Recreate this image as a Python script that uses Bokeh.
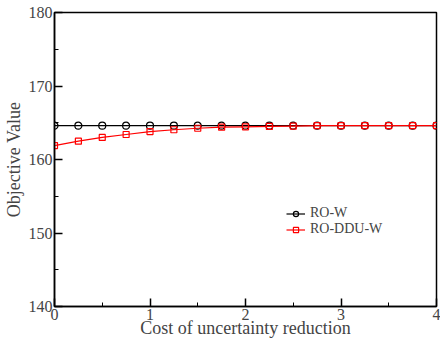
from bokeh.plotting import figure
from bokeh.models import Range1d, FixedTicker, Legend, LegendItem
from bokeh.embed import file_html
from bokeh.resources import INLINE

cost = [0, 0.25, 0.5, 0.75, 1, 1.25, 1.5, 1.75, 2, 2.25, 2.5, 2.75, 3, 3.25, 3.5, 3.75, 4]
ro_w = [164.6] * 17
ro_ddu_w = [161.9, 162.5, 163.0, 163.4, 163.8, 164.05, 164.25, 164.4, 164.45, 164.5,
            164.55, 164.6, 164.6, 164.6, 164.6, 164.6, 164.6]
x_ticks = [0, 1, 2, 3, 4]
y_ticks = [140, 150, 160, 170, 180]

FONT = "Liberation Serif"

p = figure(width=440, height=340, output_backend="svg", toolbar_location=None,
           x_range=Range1d(0, 4), y_range=Range1d(140, 180),
           min_border_left=53, min_border_right=4, min_border_top=12, min_border_bottom=32)
p.grid.visible = False
p.outline_line_color = "black"
p.outline_line_width = 1.5
p.background_fill_color = "white"
p.border_fill_color = "white"

for ax, ticks in ((p.xaxis[0], x_ticks), (p.yaxis[0], y_ticks)):
    ax.ticker = FixedTicker(ticks=ticks,
                            minor_ticks=[t + (ticks[1] - ticks[0]) / 2 for t in ticks[:-1]])
    ax.major_tick_in = 8
    ax.major_tick_out = 0
    ax.minor_tick_in = 4
    ax.minor_tick_out = 0
    ax.axis_line_width = 1.5
    ax.major_tick_line_width = 1.5
    ax.minor_tick_line_width = 1
    ax.major_label_text_font = FONT
    ax.major_label_text_font_size = "16px"
    ax.axis_label_text_font = FONT
    ax.axis_label_text_font_size = "18px"
    ax.axis_label_text_font_style = "normal"

p.xaxis.axis_label = "Cost of uncertainty reduction"
p.yaxis.axis_label = "Objective Value"
p.xaxis.major_label_standoff = 2
p.xaxis.axis_label_standoff = -5
p.yaxis.major_label_standoff = 2
p.yaxis.axis_label_standoff = 2

l1 = p.line(cost, ro_w, line_color="black", line_width=1.2)
s1 = p.scatter(cost, ro_w, marker="circle", size=7, fill_color=None, line_color="black", line_width=1.2)
l2 = p.line(cost, ro_ddu_w, line_color="red", line_width=1.2)
s2 = p.scatter(cost, ro_ddu_w, marker="square", size=6, fill_color=None, line_color="red", line_width=1.2)

legend = Legend(items=[LegendItem(label="RO-W", renderers=[l1, s1]),
                       LegendItem(label="RO-DDU-W", renderers=[l2, s2])],
                location=(232, 69), border_line_color=None, background_fill_alpha=0,
                padding=0, margin=0, spacing=-4, glyph_width=19, glyph_height=13,
                label_standoff=5, label_text_font=FONT, label_text_font_size="14px",
                label_height=13)
p.add_layout(legend, "center")

open("out.html", "w").write(file_html(p, INLINE))
